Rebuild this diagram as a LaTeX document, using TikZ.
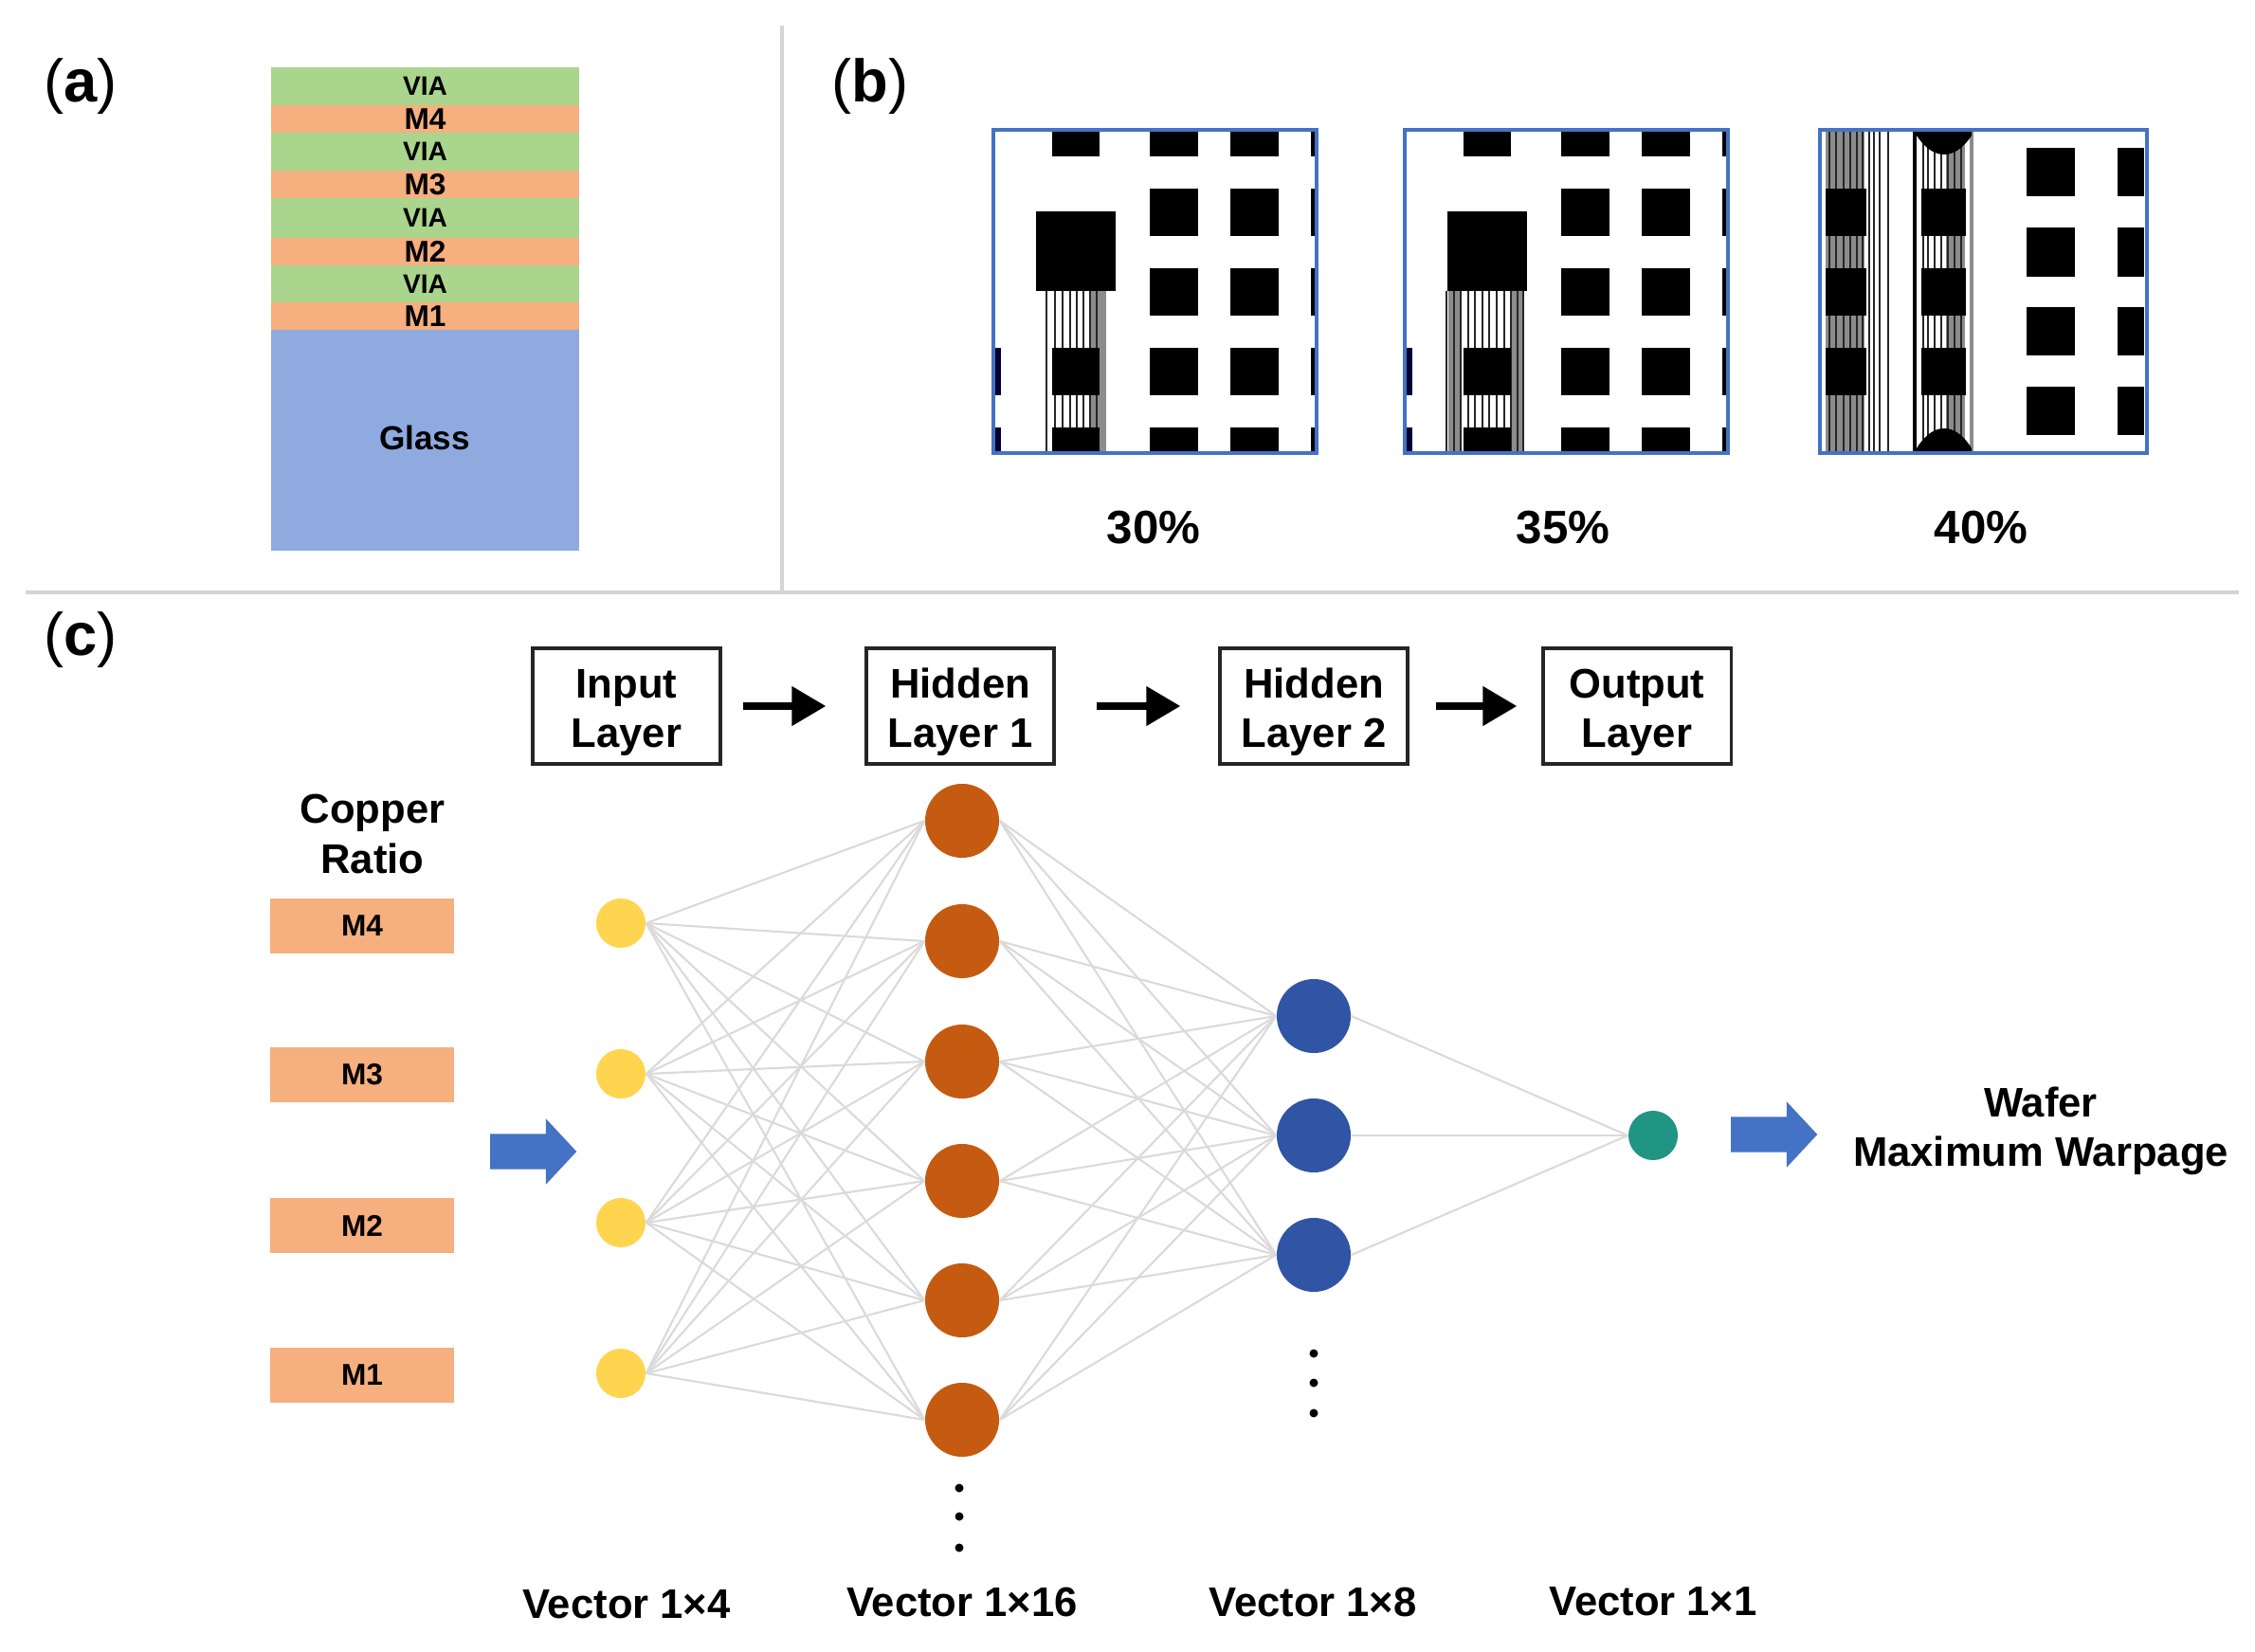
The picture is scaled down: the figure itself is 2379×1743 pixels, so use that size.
\documentclass[tikz,border=0pt]{standalone}
\usepackage{fontspec}
\setmainfont{Liberation Sans}
\usetikzlibrary{positioning,calc,arrows.meta,shapes.arrows}

\definecolor{viagreen}{HTML}{AAD58C}
\definecolor{metalorange}{HTML}{F6AF7E}
\definecolor{glassblue}{HTML}{8FAADF}
\definecolor{inputyellow}{HTML}{FFD54F}
\definecolor{hiddenorange}{HTML}{C55A11}
\definecolor{hiddenblue}{HTML}{2F55A4}
\definecolor{outputgreen}{HTML}{1F9582}
\definecolor{framearrowblue}{HTML}{4472C4}
\definecolor{edgegray}{HTML}{DADADA}
\definecolor{rulegray}{HTML}{D4D4D4}

\tikzset{
    panellabel/.style={font=\fontsize{18}{21}\selectfont},
    stacktext/.style={font=\fontsize{9}{10}\selectfont\bfseries},
    viatext/.style={font=\fontsize{8}{9}\selectfont\bfseries},
    percent/.style={font=\fontsize{14}{16}\selectfont\bfseries},
    bigtext/.style={font=\fontsize{12.4}{14.8}\selectfont\bfseries, align=center},
    layerbox/.style={bigtext, draw=black!85, line width=0.9pt, minimum width=19.8mm, minimum height=12.2mm, inner sep=0pt},
    layerarrow/.style={line width=2.2pt, -{Triangle[length=3.6mm,width=4mm]}},
    metalbox/.style={stacktext, fill=metalorange, minimum width=19.4mm, minimum height=5.7mm, inner sep=0pt},
    inputnode/.style={circle, fill=inputyellow, minimum size=5.2mm, inner sep=0pt},
    hiddennode/.style={circle, fill=hiddenorange, minimum size=7.8mm, inner sep=0pt},
    secondnode/.style={circle, fill=hiddenblue, minimum size=7.8mm, inner sep=0pt},
    outputnode/.style={circle, fill=outputgreen, minimum size=5.2mm, inner sep=0pt},
    dotnode/.style={circle, fill=black, minimum size=0.9mm, inner sep=0pt},
    netedge/.style={edgegray, line width=0.6pt},
    blockarrow/.style={single arrow, fill=framearrowblue, minimum height=9.1mm, minimum width=6.9mm, inner xsep=0pt, inner ysep=1.8mm, single arrow head extend=1.6mm, single arrow tip angle=94},
    samplebox/.style={draw=framearrowblue, line width=1.1pt},
    stripe/.style={black!85, line width=0.6pt},
}
\newcommand{\boxlift}{\rule{0pt}{12.4pt}}

\begin{document}
\begin{tikzpicture}[x=0.01cm,y=-0.01cm]
    \useasboundingbox (0,0) rectangle (2379,1743);

    % Dividers
    \draw [rulegray, line width=0.9pt] (825,27) -- (825,625);
    \draw [rulegray, line width=0.9pt] (27,625) -- (2362,625);

    \node [panellabel] (labela) at (85,91) {(\textbf{a})};
    \node [panellabel] (labelb) at (918,91) {(\textbf{b})};
    \node [panellabel] (labelc) at (85,675) {(\textbf{c})};

    % Layer stack
    \foreach \ytop/\ybot/\nm in {71/111/via4,140/180/via3,209/251/via2,280/319/via1}
        \fill [viagreen] (286,\ytop) rectangle (611,\ybot) node[pos=.5, text=black, viatext] (\nm) {VIA};
    \foreach \ytop/\ybot/\nm in {111/140/4,180/209/3,251/280/2,319/348/1}
        \fill [metalorange] (286,\ytop) rectangle (611,\ybot) node[pos=.5, text=black, stacktext] (metal\nm) {M\nm};
    \fill [glassblue] (286,348) rectangle (611,581);
    \node [font=\fontsize{10}{12}\selectfont\bfseries] (glass) at (448,462) {Glass};

    % First and second sample: squares
    \foreach \dx in {0,433.5} {
        \foreach \ya/\yb in {139/165,199/249,283/333,367/417,451/477} {
            \fill (1213+\dx,\ya) rectangle (1264+\dx,\yb);
            \fill (1298+\dx,\ya) rectangle (1349+\dx,\yb);
            \fill (1383+\dx,\ya) rectangle (1389+\dx,\yb);
        }
    }

    % First sample: via
    \fill [black!45] (1150,307) rectangle (1167,477);
    \foreach \x in {1104,1113,1121,1129,1136,1143,1150,1157}
        \draw [stripe] (\x,307) -- (\x,477);
    % Second sample: via
    \fill [black!45] (1528,307) rectangle (1541,477);
    \fill [black!45] (1594,307) rectangle (1607,477);
    \foreach \x in {1526,1534,1541,1549,1556,1564,1571,1579,1587,1594,1601,1607}
        \draw [stripe] (\x,307) -- (\x,477);
    \foreach \dx in {0,433.5} {
        \foreach \ya/\yb in {139/165,367/417,451/477}
            \fill (1110+\dx,\ya) rectangle (1160+\dx,\yb);
        \foreach \ya/\yb in {367/417,451/477}
            \fill [black!80!blue] (1049+\dx,\ya) rectangle (1056+\dx,\yb);
        \fill (1093+\dx,223) rectangle (1177+\dx,307);
    }

    % Third sample: vias
    \fill [black!45] (1926,139) rectangle (1967,477);
    \foreach \x in {1930,1937,1945,1952,1959,1965,1972,1977,1983,1992}
        \draw [stripe] (\x,139) -- (\x,477);
    \fill [black!45] (2053,139) rectangle (2073,477);
    \fill [black!45] (2078,139) rectangle (2082,477);
    \draw [black, line width=0.9pt] (2020,139) -- (2020,477);
    \foreach \x in {2029,2034,2041,2048,2055,2062,2069}
        \draw [stripe] (\x,139) -- (\x,477);
    \foreach \ya/\yb in {199/249,283/333,367/417} {
        \fill (1926,\ya) rectangle (1969,\yb);
        \fill (2027,\ya) rectangle (2074,\yb);
    }
    \fill (2022,139) -- (2080,139) -- (2080,143) .. controls (2070,158) and (2060,163) .. (2051,163) .. controls (2042,163) and (2032,158) .. (2022,143) -- cycle;
    \fill (2022,477) -- (2080,477) -- (2080,473) .. controls (2070,457) and (2060,452) .. (2051,452) .. controls (2042,452) and (2032,457) .. (2022,473) -- cycle;
    % Third sample: squares
    \foreach \ya/\yb in {156/207,240/292,324/375,408/459} {
        \fill (2138,\ya) rectangle (2189,\yb);
        \fill (2234,\ya) rectangle (2262,\yb);
    }

    \draw [samplebox] (1048,137) rectangle (1389,478);
    \draw [samplebox] (1482,137) rectangle (1823,478);
    \draw [samplebox] (1920,137) rectangle (2265,478);

    \node [percent] (thirty) at (1217,557) {30\%};
    \node [percent] (thirtyfive) at (1649,557) {35\%};
    \node [percent] (forty) at (2090,557) {40\%};

    % Layer titles
    \node [layerbox] (inlayer) at (661,745) {\boxlift Input\\Layer};
    \node [layerbox] (hidone) at (1013,745) {\boxlift Hidden\\Layer 1};
    \node [layerbox] (hidtwo) at (1386,745) {\boxlift Hidden\\Layer 2};
    \node [layerbox] (outlayer) at (1727,745) {\boxlift Output\\Layer};
    \draw [layerarrow, shorten <=2.2mm, shorten >=4.1mm] (inlayer) -- (hidone);
    \draw [layerarrow, shorten <=4.3mm, shorten >=4mm] (hidone) -- (hidtwo);
    \draw [layerarrow, shorten <=2.8mm, shorten >=2.6mm] (hidtwo) -- (outlayer);

    % Copper ratio inputs
    \node [bigtext] (copper) at (393,880) {Copper\\Ratio};
    \foreach \y/\m in {977/4,1134/3,1293/2,1451/1}
        \node [metalbox] (ratio\m) at (382,\y) {M\m};

    % Network nodes
    \foreach \y [count=\i] in {974,1133,1290,1449}
        \node [inputnode] (in\i) at (655,\y) {};
    \foreach \y [count=\i] in {866,993,1120,1246,1372,1498}
        \node [hiddennode] (a\i) at (1015,\y) {};
    \foreach \y [count=\i] in {1072,1198,1324}
        \node [secondnode] (b\i) at (1386,\y) {};
    \node [outputnode] (out) at (1744,1198) {};

    % Network edges
    \foreach \i in {1,2,3,4}
        \foreach \j in {1,2,3,4,5,6}
            \draw [netedge] (in\i.east) -- (a\j.west);
    \foreach \i in {1,2,3,4,5,6}
        \foreach \j in {1,2,3}
            \draw [netedge] (a\i.east) -- (b\j.west);
    \foreach \j in {1,2,3}
        \draw [netedge] (b\j.east) -- (out.west);

    % Ellipsis dots
    \foreach \y [count=\i] in {1570,1600,1633}
        \node [dotnode] (adot\i) at (1012,\y) {};
    \foreach \y [count=\i] in {1428,1459,1491}
        \node [dotnode] (bdot\i) at (1386,\y) {};

    \node [blockarrow] (inarrow) at (554,1215) {};
    \node [blockarrow] (outarrow) at (1863,1197) {};
    \node [bigtext] (wafer) at (2153,1193) {Wafer\\Maximum Warpage};

    % Vector sizes
    \node [bigtext] (veca) at (661,1693) {Vector 1×4};
    \node [bigtext] (vecb) at (1015,1690) {Vector 1×16};
    \node [bigtext] (vecc) at (1385,1690) {Vector 1×8};
    \node [bigtext] (vecd) at (1744,1690) {Vector 1×1};
\end{tikzpicture}
\end{document}
